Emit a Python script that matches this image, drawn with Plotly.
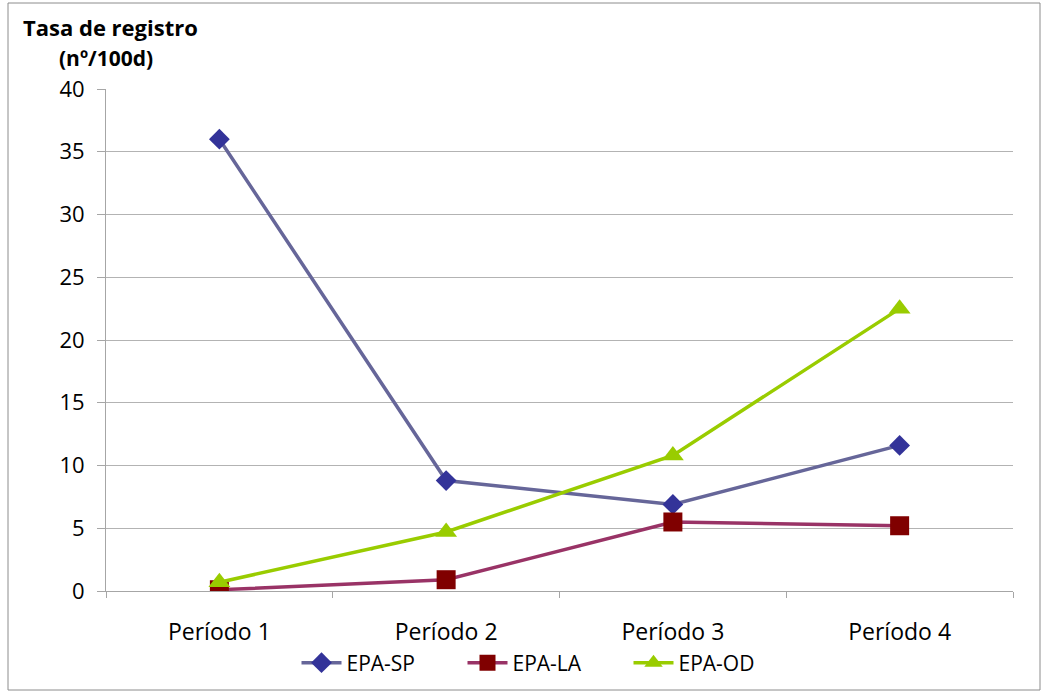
import plotly.graph_objects as go

# Datos: tasa de registro por periodo
periodos = ["Período 1", "Período 2", "Período 3", "Período 4"]
epa_sp = [36.0, 8.8, 6.9, 11.6]
epa_la = [0.1, 0.9, 5.5, 5.2]
epa_od = [0.7, 4.7, 10.8, 22.5]
y_ticks = [0, 5, 10, 15, 20, 25, 30, 35, 40]

FONT = "Open Sans"

fig = go.Figure()

fig.add_trace(go.Scatter(
    x=periodos, y=epa_sp, name="EPA-SP", mode="lines+markers",
    line=dict(color="#666699", width=3.5),
    marker=dict(symbol="diamond", size=16, color="#333399"),
))
fig.add_trace(go.Scatter(
    x=periodos, y=epa_la, name="EPA-LA", mode="lines+markers",
    line=dict(color="#993366", width=3.5),
    marker=dict(symbol="square", size=19, color="#800000"),
))
fig.add_trace(go.Scatter(
    x=periodos, y=epa_od, name="EPA-OD", mode="lines+markers",
    line=dict(color="#99CC00", width=3.5),
    marker=dict(symbol="triangle-up", size=19, color="#99CC00"),
))

fig.update_layout(
    width=1045, height=694,
    margin=dict(l=106, r=32, t=89, b=103, autoexpand=False),
    paper_bgcolor="white", plot_bgcolor="white",
    font=dict(family=FONT, size=22, color="#000000"),
    showlegend=True,
    legend=dict(
        orientation="h", x=0.5 - 14 / 907, xanchor="center",
        yref="container", y=31 / 694, yanchor="middle",
        font=dict(family=FONT, size=21), bgcolor="rgba(0,0,0,0)",
        itemwidth=40, tracegroupgap=0,
        entrywidth=111, entrywidthmode="pixels",
    ),
    xaxis=dict(
        type="category", showgrid=False, showline=True,
        linecolor="#a6a6a6", linewidth=1,
        ticks="outside", ticklen=6, tickcolor="#a6a6a6",
        tickson="boundaries", ticklabelstandoff=20,
        tickfont=dict(family=FONT, size=23),
        range=[-0.5, 3.5],
    ),
    yaxis=dict(
        range=[0, 40], tickvals=y_ticks, showgrid=True,
        gridcolor="#b3b3b3", gridwidth=1,
        showline=True, linecolor="#a6a6a6", linewidth=1,
        ticks="outside", ticklen=8, tickcolor="#a6a6a6",
        ticklabelstandoff=8, zeroline=False,
        tickfont=dict(family=FONT, size=22),
    ),
    shapes=[dict(
        type="rect", xref="paper", yref="paper",
        x0=-98 / 907, x1=1 + 27 / 907,
        y0=-99 / 502, y1=1 + 86 / 502,
        line=dict(color="#8c8c8c", width=1), fillcolor="rgba(0,0,0,0)",
        layer="below",
    )],
    annotations=[
        dict(text="<b>Tasa de registro</b>", xref="paper", yref="paper",
             x=4 / 907, y=1 + 62 / 502, xanchor="center", yanchor="middle",
             showarrow=False, font=dict(family=FONT, size=22)),
        dict(text="<b>(nº/100d)</b>", xref="paper", yref="paper",
             x=0 / 907, y=1 + 31 / 502, xanchor="center", yanchor="middle",
             showarrow=False, font=dict(family=FONT, size=21)),
    ],
)

fig.write_html("out.html")
